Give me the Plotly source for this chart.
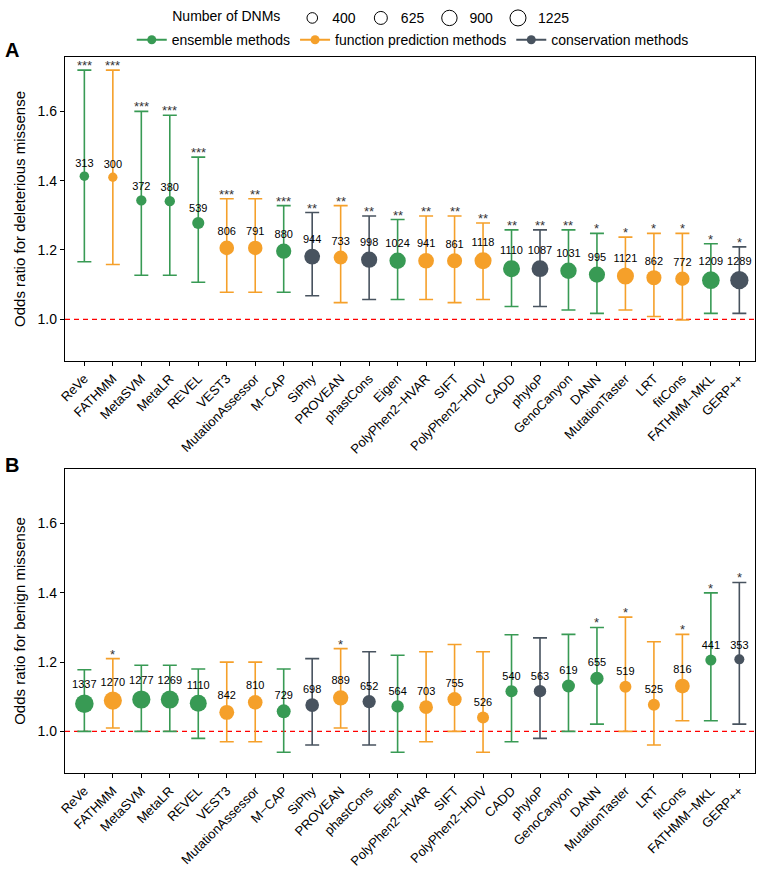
import numpy as np
import plotly.graph_objects as go

methods = ["ReVe", "FATHMM", "MetaSVM", "MetaLR", "REVEL", "VEST3", "MutationAssessor",
           "M−CAP", "SiPhy", "PROVEAN", "phastCons", "Eigen", "PolyPhen2−HVAR", "SIFT",
           "PolyPhen2−HDIV", "CADD", "phyloP", "GenoCanyon", "DANN", "MutationTaster",
           "LRT", "fitCons", "FATHMM−MKL", "GERP++"]
groups = ["ens", "fun", "ens", "ens", "ens", "fun", "fun", "ens", "con", "fun", "con", "ens",
          "fun", "fun", "fun", "ens", "con", "ens", "ens", "fun", "fun", "fun", "ens", "con"]

# Panel A: deleterious missense
a_or = [1.413, 1.410, 1.343, 1.341, 1.278, 1.206, 1.206, 1.197, 1.181, 1.178, 1.172, 1.169,
        1.169, 1.169, 1.169, 1.146, 1.146, 1.140, 1.129, 1.125, 1.120, 1.117, 1.113, 1.113]
a_hi = [1.719, 1.719, 1.600, 1.589, 1.468, 1.348, 1.348, 1.328, 1.308, 1.328, 1.298, 1.288,
        1.298, 1.298, 1.278, 1.258, 1.258, 1.258, 1.248, 1.237, 1.248, 1.248, 1.218, 1.209]
a_lo = [1.166, 1.158, 1.127, 1.127, 1.107, 1.078, 1.078, 1.078, 1.068, 1.048, 1.057, 1.057,
        1.057, 1.048, 1.057, 1.037, 1.037, 1.027, 1.017, 1.027, 1.008, 0.998, 1.017, 1.017]
a_n = [313, 300, 372, 380, 539, 806, 791, 880, 944, 733, 998, 1024, 941, 861, 1118, 1110,
       1087, 1031, 995, 1121, 862, 772, 1209, 1289]
a_sig = ["***", "***", "***", "***", "***", "***", "**", "***", "**", "**", "**", "**", "**",
         "**", "**", "**", "**", "**", "*", "*", "*", "*", "*", "*"]

# Panel B: benign missense
b_or = [1.080, 1.089, 1.092, 1.092, 1.081, 1.055, 1.084, 1.058, 1.076, 1.097, 1.086, 1.072,
        1.070, 1.093, 1.040, 1.116, 1.116, 1.131, 1.153, 1.129, 1.077, 1.131, 1.206, 1.208]
b_hi = [1.178, 1.210, 1.191, 1.191, 1.180, 1.200, 1.200, 1.180, 1.210, 1.239, 1.230, 1.220,
        1.230, 1.251, 1.230, 1.279, 1.270, 1.280, 1.300, 1.330, 1.259, 1.280, 1.400, 1.430]
b_lo = [1.000, 1.010, 1.000, 1.000, 0.980, 0.970, 0.970, 0.940, 0.961, 1.010, 0.961, 0.940,
        0.970, 1.000, 0.940, 0.970, 0.980, 1.000, 1.021, 1.000, 0.961, 1.031, 1.031, 1.021]
b_n = [1337, 1270, 1277, 1269, 1110, 842, 810, 729, 698, 889, 652, 564, 703, 755, 526, 540,
       563, 619, 655, 519, 525, 816, 441, 353]
b_sig = ["", "*", "", "", "", "", "", "", "", "*", "", "", "", "", "", "", "", "", "*", "*",
         "", "*", "*", "*"]

size_breaks = [400, 625, 900, 1225]
group_names = {"ens": "ensemble methods", "fun": "function prediction methods",
               "con": "conservation methods"}
colors = {"ens": "#389a54", "fun": "#f5a02a", "con": "#48535f"}
FONT = "Liberation Sans, Arial, Helvetica, sans-serif"


def msize(n):
    return 1 + 0.48 * np.sqrt(np.asarray(n, dtype=float))


fig = go.Figure()

panels = [("x", "y", a_or, a_hi, a_lo, a_n, a_sig),
          ("x2", "y2", b_or, b_hi, b_lo, b_n, b_sig)]

for xa, ya, orr, hi, lo, nn, sig in panels:
    for g in ["ens", "fun", "con"]:
        idx = [i for i, gg in enumerate(groups) if gg == g]
        xs = [methods[i] for i in idx]
        ys = [orr[i] for i in idx]
        up = [hi[i] - orr[i] for i in idx]
        dn = [orr[i] - lo[i] for i in idx]
        ns = [nn[i] for i in idx]
        fig.add_trace(go.Scatter(
            x=xs, y=ys, xaxis=xa, yaxis=ya, mode="markers+text",
            text=[str(v) for v in ns], textposition="top center",
            textfont=dict(size=11, color="black", family=FONT),
            marker=dict(size=msize(ns), color=colors[g], opacity=1, line=dict(width=0)),
            error_y=dict(type="data", symmetric=False, array=up, arrayminus=dn,
                         color=colors[g], thickness=1.6, width=7),
            showlegend=False, cliponaxis=False, hoverinfo="x+y"))
    for i, s in enumerate(sig):
        if s:
            fig.add_annotation(x=methods[i], y=hi[i], xref=xa, yref=ya, text=s,
                               showarrow=False, yanchor="bottom", yshift=-5,
                               font=dict(size=13, color="#333333", family=FONT))

# legend entries for method groups
for g in ["ens", "fun", "con"]:
    fig.add_trace(go.Scatter(x=[None], y=[None], mode="lines+markers", name=group_names[g],
                             line=dict(color=colors[g], width=2),
                             marker=dict(color=colors[g], size=9, opacity=1),
                             legend="legend", showlegend=True))
# legend entries for sizes
for b in size_breaks:
    fig.add_trace(go.Scatter(x=[None], y=[None], mode="markers", name=str(b),
                             marker=dict(symbol="circle-open", color="black",
                                         size=float(msize(b)), line=dict(width=1)),
                             legend="legend2", showlegend=True))

axis_common = dict(showline=True, linecolor="black", linewidth=1.3, mirror=True,
                   ticks="outside", ticklen=4, tickcolor="black", showgrid=False,
                   zeroline=False, tickfont=dict(size=14, color="black", family=FONT))

xaxis_common = dict(axis_common, type="category", categoryorder="array",
                    categoryarray=methods, range=[-0.68, 23.55], tickangle=-45,
                    tickfont=dict(size=13, color="black", family=FONT))

yaxis_common = dict(axis_common, range=[0.88, 1.757], tickvals=[1.0, 1.2, 1.4, 1.6],
                    tickformat=".1f")

fig.update_layout(
    width=757, height=871,
    margin=dict(l=65, r=2, t=52, b=98),
    paper_bgcolor="white", plot_bgcolor="white",
    font=dict(family=FONT, color="black"),
    xaxis=dict(xaxis_common, domain=[0, 1], anchor="y"),
    yaxis=dict(yaxis_common, domain=[0.5756, 1], anchor="x",
               title=dict(text="Odds ratio for deleterious missense",
                          font=dict(size=15, family=FONT), standoff=8)),
    xaxis2=dict(xaxis_common, domain=[0, 1], anchor="y2"),
    yaxis2=dict(yaxis_common, domain=[0, 0.4244], anchor="x2",
                title=dict(text="Odds ratio for benign missense",
                           font=dict(size=15, family=FONT), standoff=8)),
    legend=dict(orientation="h", x=0.504, xanchor="center", y=1.0236, yanchor="middle",
                font=dict(size=14, family=FONT), itemsizing="trace",
                bgcolor="rgba(0,0,0,0)", itemwidth=30, tracegroupgap=0),
    legend2=dict(orientation="h", x=0.446, xanchor="center", y=1.054, yanchor="middle",
                 font=dict(size=14, family=FONT), itemsizing="trace",
                 title=dict(text="Number of DNMs ", side="left",
                            font=dict(size=14, family=FONT)),
                 bgcolor="rgba(0,0,0,0)", itemwidth=30),
    shapes=[
        dict(type="line", xref="x domain", yref="y", x0=0, x1=1, y0=1, y1=1,
             line=dict(color="#ff0000", width=1.3, dash="5px,4px"), layer="below"),
        dict(type="line", xref="x2 domain", yref="y2", x0=0, x1=1, y0=1, y1=1,
             line=dict(color="#ff0000", width=1.3, dash="5px,4px"), layer="below"),
    ],
)

fig.add_annotation(text="<b>A</b>", xref="paper", yref="paper", x=-0.077, y=1.01,
                   showarrow=False, font=dict(size=20, family=FONT), xanchor="center",
                   yanchor="middle")
fig.add_annotation(text="<b>B</b>", xref="paper", yref="paper", x=-0.077, y=0.43,
                   showarrow=False, font=dict(size=20, family=FONT), xanchor="center",
                   yanchor="middle")

fig.write_html("out.html", config={"displayModeBar": False},
               post_script="document.body.style.margin='0';document.body.style.overflow='hidden';")
